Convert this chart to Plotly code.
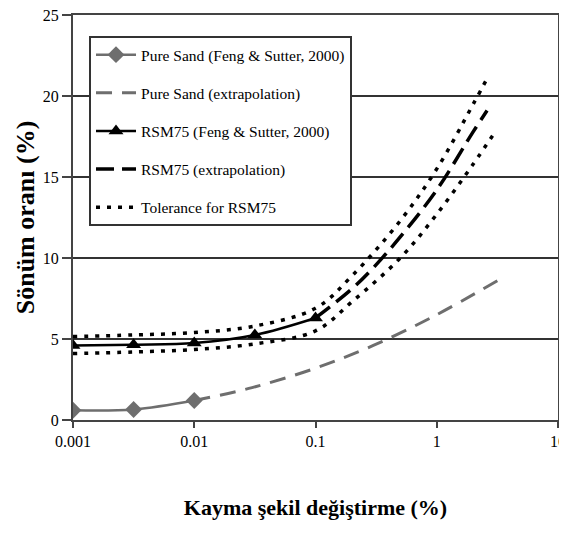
import plotly.graph_objects as go

# Pure sand (Feng & Sutter, 2000)
sand_x = [0.001, 0.00316, 0.01]
sand_y = [0.6, 0.65, 1.2]
# Pure sand extrapolation
sand_ext_x = [0.01, 0.03, 0.1, 0.3, 1, 3.16]
sand_ext_y = [1.2, 2.0, 3.2, 4.6, 6.5, 8.6]
# RSM75 (Feng & Sutter, 2000)
rsm_x = [0.001, 0.00316, 0.01, 0.0316, 0.1]
rsm_y = [4.6, 4.65, 4.75, 5.25, 6.3]
# RSM75 extrapolation
rsm_ext_x = [0.1, 0.2, 0.3, 0.5, 1, 2, 2.6]
rsm_ext_y = [6.3, 8.1, 9.4, 11.3, 14.2, 17.8, 19.1]
# Tolerance for RSM75
tol_up_x = [0.001, 0.00316, 0.01, 0.0316, 0.1, 0.2, 0.5, 1, 2, 2.7]
tol_up_y = [5.15, 5.25, 5.4, 5.8, 6.9, 8.9, 12.3, 15.5, 19.5, 21.3]
tol_lo_x = [0.001, 0.00316, 0.01, 0.0316, 0.1, 0.2, 0.5, 1, 2, 3.1]
tol_lo_y = [4.1, 4.2, 4.35, 4.7, 5.5, 7.3, 10.0, 12.7, 15.8, 17.9]

x_ticks = [0.001, 0.01, 0.1, 1, 10]
x_ticktext = ["0.001", "0.01", "0.1", "1", "10"]
y_ticks = [0, 5, 10, 15, 20, 25]

GRAY = "#6e6e6e"
serif = "Liberation Serif"

fig = go.Figure()
fig.add_trace(go.Scatter(x=tol_up_x, y=tol_up_y, mode="lines", line=dict(color="black", width=3.5, dash="4px,7px", shape="spline"),
                         name="Tolerance for RSM75", legendgroup="t", showlegend=False))
fig.add_trace(go.Scatter(x=tol_lo_x, y=tol_lo_y, mode="lines", line=dict(color="black", width=3.5, dash="4px,7px", shape="spline"),
                         name="Tolerance for RSM75", legendgroup="t", showlegend=False))
fig.add_trace(go.Scatter(x=sand_x, y=sand_y, mode="lines+markers", name="Pure Sand (Feng & Sutter, 2000)",
                         line=dict(color=GRAY, width=2.5, shape="spline"),
                         marker=dict(symbol="diamond", size=13, color=GRAY), legendgroup="a", legendrank=1))
fig.add_trace(go.Scatter(x=sand_ext_x, y=sand_ext_y, mode="lines", name="Pure Sand (extrapolation)",
                         line=dict(color=GRAY, width=3, dash="16px,10px", shape="spline"), legendgroup="b", legendrank=2))
fig.add_trace(go.Scatter(x=rsm_x, y=rsm_y, mode="lines+markers", name="RSM75 (Feng & Sutter, 2000)",
                         line=dict(color="black", width=2.5, shape="spline"),
                         marker=dict(symbol="triangle-up", size=13, color="black"), legendgroup="c", legendrank=3))
fig.add_trace(go.Scatter(x=rsm_ext_x, y=rsm_ext_y, mode="lines", name="RSM75 (extrapolation)",
                         line=dict(color="black", width=3.5, dash="18px,8px", shape="spline"), legendgroup="d", legendrank=4))
fig.add_trace(go.Scatter(x=[None], y=[None], mode="lines", name="Tolerance for RSM75",
                         line=dict(color="black", width=3.5, dash="4px,7px"), legendgroup="t", legendrank=5))

# the page has an 8px body margin; keep the figure small enough that no scrollbar appears
fig.update_layout(
    width=559, height=512,
    margin=dict(l=65, r=9, t=7, b=100),
    paper_bgcolor="white", plot_bgcolor="white",
    font=dict(family=serif, size=15, color="black"),
    legend=dict(x=0.033, y=0.948, xanchor="left", yanchor="top",
                bgcolor="white", bordercolor="#333", borderwidth=2,
                font=dict(family=serif, size=15.5), tracegroupgap=15,
                itemwidth=40),
    xaxis=dict(type="log", range=[-3, 1], tickvals=x_ticks, ticktext=x_ticktext,
               showgrid=False, showline=True, linecolor="#444", linewidth=2, mirror=True,
               ticks="outside", ticklen=6, tickwidth=2, tickcolor="#444", automargin=False,
               ticklabeloverflow="allow",
               tickfont=dict(family=serif, size=16),
               title=dict(text="<b>Kayma şekil değiştirme (%)</b>", font=dict(family=serif, size=22), standoff=51)),
    yaxis=dict(range=[0, 25], tickvals=y_ticks, showgrid=True, gridcolor="#333", gridwidth=2,
               showline=True, linecolor="#444", linewidth=2, mirror=True, zeroline=False,
               ticks="outside", ticklen=9, tickwidth=2, tickcolor="#444", automargin=False,
               ticklabeloverflow="allow",
               tickfont=dict(family=serif, size=16),
               title=dict(text="<b>Sönüm oranı (%)</b>", font=dict(family=serif, size=26), standoff=1)),
)

fig.write_html("out.html")
